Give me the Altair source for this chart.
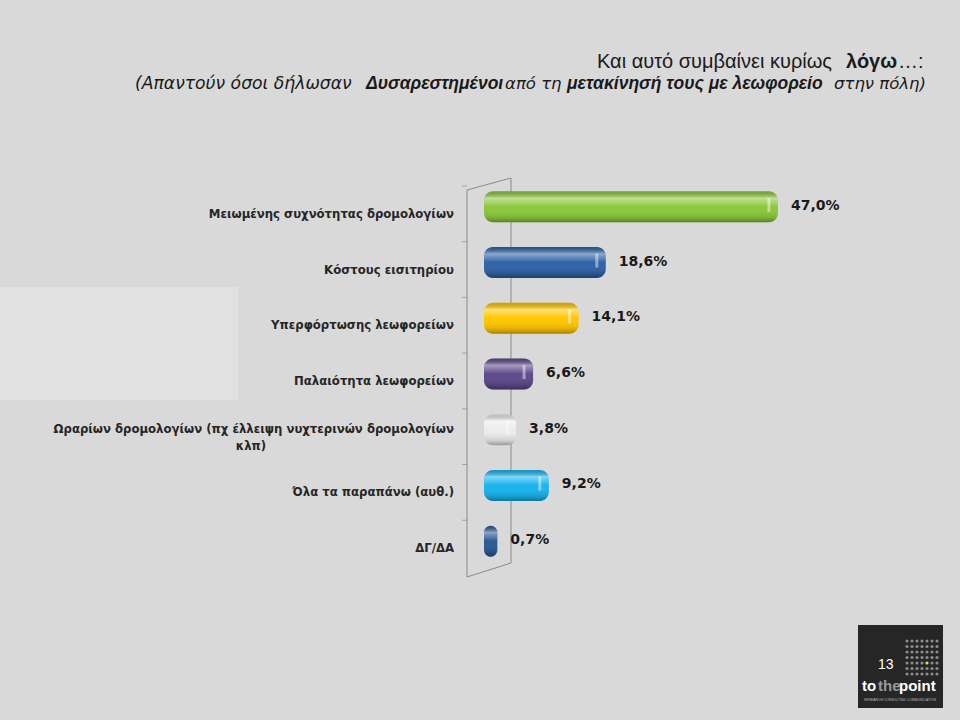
import altair as alt
import pandas as pd

# ---- data ----
categories = [
    "Μειωμένης συχνότητας δρομολογίων",
    "Κόστους εισιτηρίου",
    "Υπερφόρτωσης λεωφορείων",
    "Παλαιότητα λεωφορείων",
    "Ωραρίων δρομολογίων (πχ έλλειψη νυχτερινών δρομολογίων κλπ)",
    "Όλα τα παραπάνω (αυθ.)",
    "ΔΓ/ΔΑ",
]
label_line1 = [
    "Μειωμένης συχνότητας δρομολογίων",
    "Κόστους εισιτηρίου",
    "Υπερφόρτωσης λεωφορείων",
    "Παλαιότητα λεωφορείων",
    "Ωραρίων δρομολογίων (πχ έλλειψη νυχτερινών δρομολογίων",
    "Όλα τα παραπάνω (αυθ.)",
    "ΔΓ/ΔΑ",
]
label_line2 = ["", "", "", "", "κλπ)", "", ""]
values = [47.0, 18.6, 14.1, 6.6, 3.8, 9.2, 0.7]
value_labels = ["47,0%", "18,6%", "14,1%", "6,6%", "3,8%", "9,2%", "0,7%"]
bar_colors = ["#8cc83c", "#2f63a6", "#ffc600", "#5e4a8c", "#ececec", "#19b4ee", "#2c5a96"]

df = pd.DataFrame({
    "cat": categories,
    "l1": label_line1,
    "l2": label_line2,
    "value": values,
    "lab": value_labels,
})

W, H = 476, 390
LEFT, TOP = 484, 186

yenc = alt.Y("cat:N", sort=categories,
             scale=alt.Scale(domain=categories, paddingInner=0, paddingOuter=0),
             axis=None)
xscale = alt.Scale(domain=[-1.5, 77.05], zero=False, nice=False)

base = alt.Chart(df)
one = alt.Chart(pd.DataFrame({"d": [0]}))

AX = "#8a8a8a"

# decorative light band
band_left = one.mark_rect(color="#e1e1e1").encode(
    x=alt.value(-LEFT), x2=alt.value(238 - LEFT), y=alt.value(287 - TOP), y2=alt.value(400 - TOP))

# 3D wall lines
wall = [
    one.mark_rule(color=AX, strokeWidth=1).encode(x=alt.value(-17), x2=alt.value(-17), y=alt.value(4), y2=alt.value(391)),
    one.mark_rule(color=AX, strokeWidth=1).encode(x=alt.value(27), x2=alt.value(27), y=alt.value(-8), y2=alt.value(377)),
    one.mark_rule(color=AX, strokeWidth=1).encode(x=alt.value(-17), x2=alt.value(27), y=alt.value(4), y2=alt.value(-8)),
    one.mark_rule(color=AX, strokeWidth=1).encode(x=alt.value(-17), x2=alt.value(27), y=alt.value(391), y2=alt.value(377)),
]
ticks = base.mark_tick(color=AX, orient="horizontal", size=5, thickness=1, yOffset=-27.9, xOffset=-19.5).encode(
    y=yenc, x=alt.value(0))

bars = base.mark_bar(cornerRadius=9, size=31, yOffset=-7).encode(
    y=yenc,
    x=alt.X("value:Q", scale=xscale, axis=None),
    x2=alt.X2(datum=-1.5),
    color=alt.Color("cat:N", scale=alt.Scale(domain=categories, range=bar_colors), legend=None),
)
shade = base.mark_bar(cornerRadius=9, size=31, yOffset=-7, color=alt.Gradient(
    gradient="linear", x1=0, x2=0, y1=0, y2=1,
    stops=[
        alt.GradientStop(offset=0, color="rgba(0,0,0,0.18)"),
        alt.GradientStop(offset=0.22, color="rgba(255,255,255,0.45)"),
        alt.GradientStop(offset=0.5, color="rgba(255,255,255,0.0)"),
        alt.GradientStop(offset=0.85, color="rgba(0,0,0,0.12)"),
        alt.GradientStop(offset=1, color="rgba(0,0,0,0.35)"),
    ])).encode(
    y=yenc, x=alt.X("value:Q", scale=xscale), x2=alt.X2(datum=-1.5))
shine = base.mark_tick(color="white", opacity=0.45, thickness=3, size=14, yOffset=-9, xOffset=-9).encode(
    y=yenc, x=alt.X("value:Q", scale=xscale)).transform_filter("datum.value > 2")

vals = base.mark_text(align="left", baseline="middle", dx=13, dy=-8, font="DejaVu Sans",
                      fontWeight="bold", fontSize=14, color="#1a1a1a").encode(
    y=yenc, x=alt.X("value:Q", scale=xscale), text="lab:N")

LBL = dict(font="DejaVu Sans", fontWeight="bold", fontSize=11.7, color="#262626", baseline="middle")
labs1 = base.mark_text(align="right", **LBL).encode(
    y=yenc, x=alt.value(-30), text="l1:N").transform_filter("datum.l2 == ''")
labs2a = base.mark_text(align="right", dy=-8, **LBL).encode(
    y=yenc, x=alt.value(-30), text="l1:N").transform_filter("datum.l2 != ''")
labs2b = base.mark_text(align="center", dy=9, **LBL).encode(
    y=yenc, x=alt.value(-233), text="l2:N").transform_filter("datum.l2 != ''")

def txt(s, x, y, size, weight="normal", style="normal", color="#1a1a1a", align="left", font="Liberation Sans"):
    return one.mark_text(text=s, align=align, baseline="middle", font=font, fontSize=size,
                         fontWeight=weight, fontStyle=style, color=color).encode(
        x=alt.value(x - LEFT), y=alt.value(y - TOP))

title = [
    txt("Και αυτό συμβαίνει κυρίως", 597, 62, 20),
    txt("λόγω", 846, 62, 20, weight="bold"),
    txt("…:", 898, 62, 20),
    txt("(Απαντούν όσοι δήλωσαν", 135, 84, 17.2, style="italic", font="DejaVu Sans"),
    txt("Δυσαρεστημένοι", 366, 84, 17.5, weight="bold", style="italic"),
    txt("από τη", 505, 84, 16.5, style="italic", font="DejaVu Sans"),
    txt("μετακίνησή τους με λεωφορείο", 567, 84, 17.5, weight="bold", style="italic"),
    txt("στην πόλη)", 834, 84, 16.5, style="italic", font="DejaVu Sans"),
]

# logo block
logo_bg = one.mark_rect(color="#262626").encode(
    x=alt.value(858 - LEFT), x2=alt.value(943 - LEFT), y=alt.value(625 - TOP), y2=alt.value(708 - TOP))
gx = [907 + 5 * i for i in range(7)]
gy = [641 + 5.5 * j for j in range(7)]
grid = pd.DataFrame([{"px": x - LEFT, "py": y - TOP, "hl": (i == 4 and j == 4)}
                     for i, x in enumerate(gx) for j, y in enumerate(gy)])
dots = alt.Chart(grid).mark_circle(size=10, opacity=1).encode(
    x=alt.X("px:Q", scale=None), y=alt.Y("py:Q", scale=None),
    color=alt.condition("datum.hl", alt.value("#d4f03c"), alt.value("#8c8c8c")))
logo = [
    logo_bg, dots,
    txt("13", 878, 665, 14, color="white"),
    txt("to", 862, 686, 15, weight="bold", color="white"),
    txt("the", 878, 686, 15, weight="bold", color="#9a9a9a"),
    txt("point", 899, 686, 15, weight="bold", color="white"),
    txt("RESEARCH  CONSULTING  COMMUNICATION", 864, 700, 3.4, color="#bbbbbb"),
]

chart = alt.layer(
    band_left, *wall, ticks, bars, shade, shine, vals, labs1, labs2a, labs2b, *title, *logo
).properties(
    width=W, height=H,
    autosize=alt.AutoSizeParams(type="none"),
    padding={"left": LEFT, "top": TOP, "right": 0, "bottom": 720 - TOP - H},
    background="#d9d9d9",
).configure_view(stroke=None)

chart.save("out.html", embed_options={"renderer": "svg", "actions": False})
